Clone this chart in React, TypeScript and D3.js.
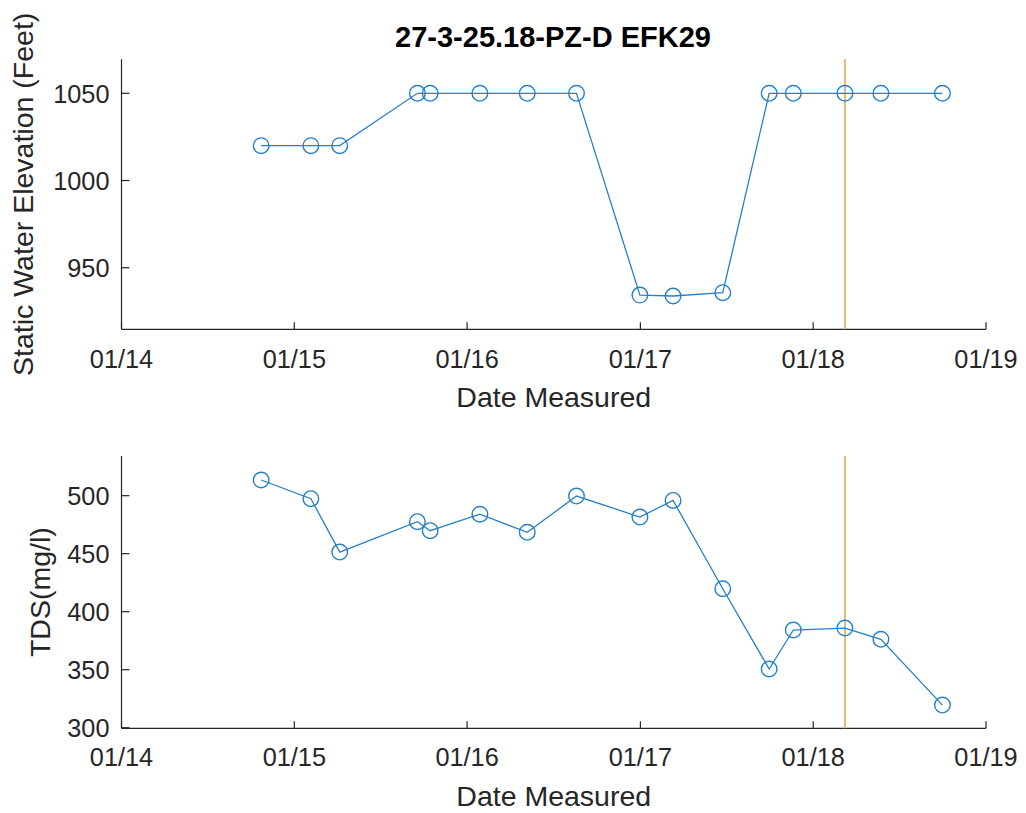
import { useEffect, useRef } from 'react';
import * as d3 from 'd3';

// sample dates (both panels share the same dates)
const sampleDates = [
  '2014-10-23', '2015-02-05', '2015-04-07', '2015-09-18', '2015-10-15',
  '2016-01-28', '2016-05-07', '2016-08-19', '2016-12-31', '2017-03-11',
  '2017-06-24', '2017-09-30', '2017-11-20', '2018-03-09', '2018-05-24',
  '2018-10-01',
];
const waterElevation = [
  1020, 1020, 1020, 1050, 1050, 1050, 1050, 1050, 934.3, 933.8,
  935.7, 1050, 1050, 1050, 1050, 1050,
];
const tdsValues = [
  513.5, 497.4, 451.4, 477.6, 469.8, 484, 468.4, 499.7, 481.6, 495.9,
  419.8, 350.6, 384.2, 385.9, 376.2, 319.5,
];
const markerDate = '2018-03-09';
const xTickYears = ['2014-01-01', '2015-01-01', '2016-01-01', '2017-01-01', '2018-01-01', '2019-01-01'];
const elevTicks = [950, 1000, 1050];
const tdsTicks = [300, 350, 400, 450, 500];

const chartTitle = '27-3-25.18-PZ-D EFK29';
const FONT = '"Liberation Sans", Arial, Helvetica, sans-serif';
const AXIS_COLOR = '#262626';
const LINE_COLOR = '#2680C6';
const MARK_COLOR = '#EFB36A';

export default function App() {
  const svgRef = useRef<SVGSVGElement>(null);

  useEffect(() => {
    if (!svgRef.current) return;
    const svg = d3.select(svgRef.current);
    svg.selectAll('*').remove();

    const parse = d3.timeParse('%Y-%m-%d');
    const dates = sampleDates.map(d => parse(d) as Date);
    const tickDates = xTickYears.map(d => parse(d) as Date);

    const xScale = d3.scaleTime()
      .domain([tickDates[0], tickDates[tickDates.length - 1]])
      .range([121.5, 986]);

    const panels = [
      {
        values: waterElevation,
        y: d3.scaleLinear().domain([914.7, 1069.5]).range([329.3, 59.3]),
        ticks: elevTicks,
        label: 'Static Water Elevation (Feet)',
        labelX: 33,
        tickBaseline: 368.3,
        xLabelBaseline: 406.5,
      },
      {
        values: tdsValues,
        y: d3.scaleLinear().domain([299.5, 534.2]).range([728.3, 456]),
        ticks: tdsTicks,
        label: 'TDS(mg/l)',
        labelX: 50,
        tickBaseline: 766,
        xLabelBaseline: 805.5,
      },
    ];

    svg.append('text')
      .attr('x', 553)
      .attr('y', 47)
      .attr('text-anchor', 'middle')
      .attr('font-family', FONT)
      .attr('font-weight', 'bold')
      .attr('font-size', 29)
      .attr('fill', '#000')
      .text(chartTitle);

    panels.forEach(p => {
      const [x0, x1] = xScale.range();
      const [yBottom, yTop] = p.y.range();
      const g = svg.append('g');

      // axis lines
      g.append('line')
        .attr('x1', x0).attr('x2', x1).attr('y1', yBottom).attr('y2', yBottom)
        .attr('stroke', AXIS_COLOR).attr('stroke-width', 1.2);
      g.append('line')
        .attr('x1', x0).attr('x2', x0).attr('y1', yBottom).attr('y2', yTop)
        .attr('stroke', AXIS_COLOR).attr('stroke-width', 1.2);

      // x ticks (inward)
      tickDates.forEach(d => {
        g.append('line')
          .attr('x1', xScale(d)).attr('x2', xScale(d))
          .attr('y1', yBottom).attr('y2', yBottom - 7)
          .attr('stroke', AXIS_COLOR).attr('stroke-width', 1.2);
        g.append('text')
          .attr('x', xScale(d))
          .attr('y', p.tickBaseline)
          .attr('text-anchor', 'middle')
          .attr('font-family', FONT)
          .attr('font-size', 25.3)
          .attr('fill', AXIS_COLOR)
          .text(d3.timeFormat('%m/%y')(d));
      });

      // y ticks (inward)
      p.ticks.forEach(t => {
        g.append('line')
          .attr('x1', x0).attr('x2', x0 + 8)
          .attr('y1', p.y(t)).attr('y2', p.y(t))
          .attr('stroke', AXIS_COLOR).attr('stroke-width', 1.2);
        g.append('text')
          .attr('x', 109.5)
          .attr('y', p.y(t))
          .attr('dy', '0.37em')
          .attr('text-anchor', 'end')
          .attr('font-family', FONT)
          .attr('font-size', 25.3)
          .attr('fill', AXIS_COLOR)
          .text(t);
      });

      // axis labels
      g.append('text')
        .attr('x', (x0 + x1) / 2)
        .attr('y', p.xLabelBaseline)
        .attr('text-anchor', 'middle')
        .attr('font-family', FONT)
        .attr('font-size', 28.5)
        .attr('fill', AXIS_COLOR)
        .text('Date Measured');
      g.append('text')
        .attr('transform', `translate(${p.labelX},${(yBottom + yTop) / 2}) rotate(-90)`)
        .attr('text-anchor', 'middle')
        .attr('font-family', FONT)
        .attr('font-size', 28.5)
        .attr('fill', AXIS_COLOR)
        .text(p.label);

      // vertical marker
      const mx = xScale(parse(markerDate) as Date);
      g.append('line')
        .attr('x1', mx).attr('x2', mx).attr('y1', yTop).attr('y2', yBottom)
        .attr('stroke', MARK_COLOR).attr('stroke-width', 2);

      // data line
      const line = d3.line<number>()
        .x((_, i) => xScale(dates[i]))
        .y(v => p.y(v));
      g.append('path')
        .datum(p.values)
        .attr('d', line)
        .attr('fill', 'none')
        .attr('stroke', LINE_COLOR)
        .attr('stroke-width', 1.3);

      g.selectAll('.pt')
        .data(p.values)
        .enter()
        .append('circle')
        .attr('class', 'pt')
        .attr('cx', (_, i) => xScale(dates[i]))
        .attr('cy', v => p.y(v))
        .attr('r', 7.8)
        .attr('fill', 'none')
        .attr('stroke', LINE_COLOR)
        .attr('stroke-width', 1.4);
    });
  }, []);

  return (
    <svg
      ref={svgRef}
      width={1026}
      height={813}
      style={{ position: 'absolute', left: 0, top: 0, display: 'block', background: '#fff' }}
    />
  );
}
